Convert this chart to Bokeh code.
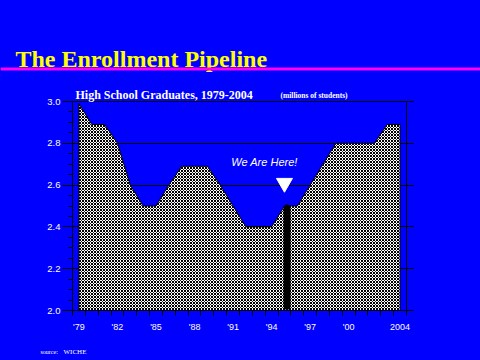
from bokeh.plotting import figure
from bokeh.layouts import column
from bokeh.models import FixedTicker, LinearAxis
from bokeh.core.properties import value
from bokeh.embed import file_html
from bokeh.resources import INLINE
import numpy as np

# ---- data (millions of high school graduates) ----
years = list(range(1979, 2005))
graduates = [2.99, 2.89, 2.89, 2.80, 2.60, 2.50, 2.50, 2.60, 2.69, 2.69,
             2.69, 2.60, 2.50, 2.40, 2.40, 2.40, 2.50, 2.50, 2.60, 2.70,
             2.80, 2.80, 2.80, 2.80, 2.89, 2.89]
x_tick_years = [1979, 1982, 1985, 1988, 1991, 1994, 1997, 2000, 2004]
x_tick_labels = ["'79", "'82", "'85", "'88", "'91", "'94", "'97", "'00", "2004"]
y_ticks = [2.0, 2.2, 2.4, 2.6, 2.8, 3.0]
y_tick_labels = ["2.0", "2.2", "2.4", "2.6", "2.8", "3.0"]
here_year = [1995.2]
here_bottom = [2.02]
here_top = [2.49]
arrow_year = [1995.0]
arrow_level = [2.61]
here_text_year = [1993.45]
here_text_level = [2.71]

BLUE = "#0000FF"
W = 480
X0, X1 = years[0] - 0.5, years[-1] + 0.5
Y0, YTOP = 2.0, 3.0

# page-pixel layout
HEAD_H = 82
FOOT_H = 22
MAIN_H = 360 - HEAD_H - FOOT_H
FL, FR, FT, FB = 72, 406, 101, 310      # frame box of the 2.0-3.0 chart
PX_PER_UNIT = (FB - FT) / (YTOP - Y0)
Y1 = YTOP + (FT - HEAD_H) / PX_PER_UNIT  # frame extends up to hold the subtitle row


def dx(px):
    return X0 + (px - FL) * (X1 - X0) / (FR - FL)


def dy(py):
    return Y0 + (FB - py) / PX_PER_UNIT


def strip(height):
    return figure(width=W, height=height, x_range=(0, W), y_range=(height, 0),
                  x_axis_type=None, y_axis_type=None, output_backend="svg",
                  toolbar_location=None, background_fill_color=BLUE,
                  border_fill_color=BLUE, outline_line_color=None,
                  frame_align=False, min_border=0, min_border_left=0,
                  min_border_right=0, min_border_top=0, min_border_bottom=0)


# ---- header: title and magenta rule ----
head = strip(HEAD_H)
head.text(x=[15], y=[58.5], text=["The Enrollment Pipeline"],
          text_font=value("Liberation Serif"), text_font_style="bold",
          text_font_size="24px", text_color="#FFFF00", text_baseline="alphabetic")
head.segment(x0=[0], y0=[68.5], x1=[W], y1=[68.5], line_color="#FF00FF", line_width=3)

# ---- main chart ----
p = figure(width=W, height=MAIN_H, x_range=(X0, X1), y_range=(Y0, Y1),
           output_backend="svg", toolbar_location=None,
           background_fill_color=BLUE, border_fill_color=BLUE,
           outline_line_color=None, frame_align=False,
           min_border_left=FL, min_border_right=W - FR,
           min_border_top=0, min_border_bottom=HEAD_H + MAIN_H - FB)

p.xgrid.grid_line_color = None
p.ygrid.ticker = FixedTicker(ticks=y_ticks)
p.ygrid.grid_line_color = "black"
p.ygrid.grid_line_width = 1

xa = p.xaxis[0]
xa.ticker = FixedTicker(ticks=x_tick_years,
                        minor_ticks=[y - 0.5 for y in years] + [years[-1] + 0.5])
xa.major_label_overrides = dict(zip(x_tick_years, x_tick_labels))
xa.major_tick_line_color = None
xa.major_tick_out = 0
xa.major_tick_in = 0
xa.minor_tick_line_color = "black"
xa.minor_tick_out = 5
xa.minor_tick_in = 0
xa.axis_line_color = "black"
xa.major_label_text_color = "white"
xa.major_label_text_font = "Liberation Sans"
xa.major_label_text_font_size = "9px"
xa.major_label_standoff = 6

ya = p.yaxis[0]
y_minor = [round(v, 2) for v in np.arange(2.0, 3.0001, 0.05) if round(v, 2) not in y_ticks]
ya.ticker = FixedTicker(ticks=y_ticks, minor_ticks=y_minor)
ya.bounds = (Y0, YTOP)
ya.major_label_overrides = dict(zip(y_ticks, y_tick_labels))
ya.major_tick_line_color = "black"
ya.major_tick_out = 10
ya.major_tick_in = 0
ya.minor_tick_line_color = "black"
ya.minor_tick_out = 4
ya.minor_tick_in = 0
ya.axis_line_color = "black"
ya.major_label_text_color = "white"
ya.major_label_text_font = "Liberation Sans"
ya.major_label_text_font_size = "9.5px"
ya.major_label_standoff = 2

ra = LinearAxis(ticker=FixedTicker(ticks=y_ticks), bounds=(Y0, YTOP),
                major_tick_out=7, major_tick_in=0,
                minor_tick_line_color=None, axis_line_color="black",
                major_label_text_color=None, major_label_text_font_size="1px")
p.add_layout(ra, "right")

xs = [years[0]] + years + [years[-1]]
ys = [Y0] + graduates + [Y0]
p.patch(xs, ys, fill_color="white", hatch_pattern="diagonal_cross",
        hatch_color="black", hatch_scale=3, hatch_weight=1,
        line_color="black", line_width=1)

p.segment(x0=here_year, y0=here_bottom, x1=here_year, y1=here_top,
          line_color="black", line_width=7, line_cap="round")
p.scatter(arrow_year, arrow_level, marker="inverted_triangle", size=16,
          fill_color="white", line_color="white")
p.text(x=here_text_year, y=here_text_level, text=["We Are Here!"],
       text_font=value("Liberation Sans"), text_font_style="italic",
       text_font_size="11px", text_color="white", text_align="center",
       text_baseline="alphabetic")

# subtitle row (inside the extended frame, above the 3.0 line)
p.text(x=[dx(75)], y=[dy(94.5)], text=["High School Graduates, 1979-2004"],
       text_font=value("Liberation Serif"), text_font_style="bold",
       text_font_size="12px", text_color="white", text_baseline="alphabetic")
p.text(x=[dx(280)], y=[dy(94.5)], text=["(millions of students)"],
       text_font=value("Liberation Serif"), text_font_style="bold",
       text_font_size="7.5px", text_color="white", text_baseline="alphabetic")

# ---- footer: source ----
foot = strip(FOOT_H)
foot.text(x=[40], y=[351.5 - (360 - FOOT_H)], text=["source:"],
          text_font=value("Liberation Serif"), text_font_size="6px",
          text_color="white", text_baseline="alphabetic")
foot.text(x=[63], y=[351.5 - (360 - FOOT_H)], text=["WICHE"],
          text_font=value("Liberation Serif"), text_font_size="7px",
          text_color="white", text_baseline="alphabetic")

layout = column(head, p, foot, spacing=0)

html = file_html(layout, INLINE)
html = html.replace("</head>", "<style>html, body { background: #0000FF !important; }</style></head>", 1)
open("out.html", "w").write(html)
